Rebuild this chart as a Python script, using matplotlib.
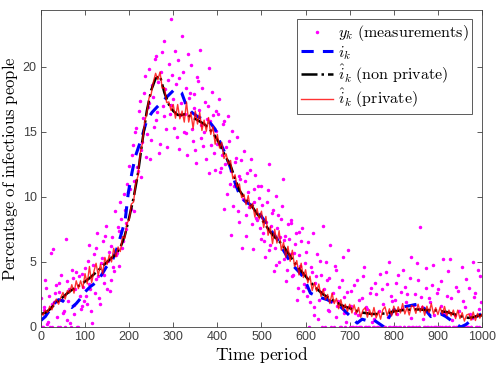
import matplotlib
matplotlib.use("Agg")
import matplotlib.pyplot as plt
import numpy as np

plt.rcParams['mathtext.fontset'] = 'cm'
plt.rcParams['font.family'] = ['Liberation Sans', 'DejaVu Sans']

# measurements y_k, read in two interleaved passes (clipped at zero like the original)
meas_x_a = np.arange(0, 1000, 4)
meas_y_a = [
    2.2, 0, 1.5, 3.0, 0.4, 0, 1.8, 6.0, 2.6, 0.8, 3.4, 0, 2.1, 1.2, 6.8, 0.5, 2.9, 0, 3.8, 1.0, 4.2, 0, 2.4, 1.6, 3.1,
    4.5, 1.8, 6.3, 2.9, 0.3, 5.6, 3.7, 7.2, 2.2, 4.9, 6.6, 3.4, 7.8, 5.1, 2.8, 6.2, 4.6, 8.9, 5.7, 7.4, 9.6, 6.1, 10.2, 8.0, 11.0,
    12.4, 9.1, 14.0, 11.2, 15.3, 12.0, 17.4, 13.6, 16.1, 19.3, 14.8, 17.2, 12.9, 18.6, 15.4, 20.8, 16.5, 13.4, 19.6, 17.0, 22.0, 15.2, 19.0, 16.4, 23.7,
    17.5, 21.2, 14.6, 19.1, 16.3, 22.4, 15.0, 18.4, 13.2, 17.6, 20.1, 14.3, 16.8, 12.6, 18.9, 21.3, 15.5, 13.9, 17.3, 16.0, 11.8, 15.8, 18.1, 13.4, 16.6,
    14.1, 17.5, 12.2, 15.6, 9.1, 13.8, 16.2, 11.0, 7.1, 9.3, 12.7, 14.6, 8.1, 11.4, 6.1, 13.5, 7.0, 11.8, 9.2, 12.9, 6.0, 10.6, 8.4, 10.8, 7.6,
    10.8, 7.2, 5.4, 9.6, 12.5, 6.3, 8.8, 4.3, 10.1, 7.6, 5.0, 8.3, 11.4, 6.7, 3.5, 7.9, 5.6, 8.0, 4.0, 6.4, 2.1, 7.3, 4.7, 7.6, 3.3,
    5.8, 2.4, 0, 4.6, 7.2, 1.5, 3.9, 0.6, 5.1, 2.7, 7.8, 0, 3.6, 1.2, 6.3, 2.0, 0, 4.4, 1.6, 3.1, 0, 5.4, 2.3, 0.4, 5.9,
    0, 2.8, 0, 1.1, 3.6, 0, 0, 2.2, 4.6, 0, 1.4, 0, 3.0, 0, 0.6, 2.5, 0, 4.1, 0, 1.8, 0, 3.3, 5.0, 0, 2.0,
    0, 3.4, 1.0, 0, 2.7, 4.4, 0, 1.9, 0, 3.8, 0.7, 0, 2.5, 4.9, 0, 7.7, 1.5, 0, 3.0, 0, 2.2, 0, 4.8, 0.9, 0,
    2.9, 0, 1.6, 5.2, 0, 2.4, 0, 5.2, 0.5, 0, 3.1, 0, 1.2, 0, 2.0, 0, 3.7, 0, 1.0, 0, 5.0, 2.6, 0, 1.4, 3.9,
]
meas_x_b = np.arange(2, 1000, 4)
meas_y_b = [
    0, 1.3, 3.6, 0.2, 2.4, 5.7, 0, 1.9, 3.2, 0, 2.7, 4.0, 1.1, 0, 3.5, 2.0, 0.3, 4.4, 1.7, 2.9, 0, 3.9, 1.4, 4.1, 2.0,
    2.4, 5.1, 3.3, 1.2, 4.8, 2.6, 6.1, 3.9, 1.8, 5.3, 4.0, 7.0, 2.9, 5.8, 3.6, 6.9, 4.3, 5.5, 7.7, 4.7, 8.3, 6.6, 9.0, 7.5, 10.4,
    10.6, 13.2, 8.9, 15.0, 12.3, 16.6, 11.5, 14.2, 18.0, 13.1, 16.9, 19.8, 14.4, 17.7, 20.6, 15.9, 18.8, 14.1, 21.1, 16.2, 18.3, 13.8, 20.2, 17.1, 19.4,
    15.3, 18.7, 20.5, 13.7, 17.2, 19.6, 16.4, 14.9, 21.0, 18.0, 15.2, 17.9, 13.6, 19.2, 16.7, 14.5, 18.4, 15.0, 12.9, 17.0, 19.9, 14.0, 16.3, 12.1, 15.1,
    16.4, 11.9, 13.2, 15.8, 12.5, 10.2, 14.3, 12.0, 15.1, 10.8, 13.0, 8.9, 11.6, 12.8, 9.8, 11.2, 8.6, 10.4, 12.1, 7.9, 9.6, 11.7, 8.2, 9.9, 6.8,
    9.4, 6.6, 8.1, 10.5, 5.9, 7.8, 9.0, 6.1, 4.8, 8.6, 6.9, 9.3, 5.2, 7.0, 4.4, 6.8, 8.2, 3.9, 5.7, 7.2, 3.0, 5.5, 6.6, 2.8, 4.9,
    3.1, 6.5, 1.9, 4.2, 0.9, 3.4, 5.6, 2.1, 4.0, 0, 2.9, 5.0, 1.3, 3.8, 0, 2.6, 4.7, 0.8, 2.0, 0, 3.6, 1.1, 0, 2.7, 1.5,
    1.6, 0, 3.2, 0, 0.9, 2.1, 0, 3.9, 0, 1.5, 0, 2.6, 0.4, 0, 3.4, 0, 1.2, 0, 2.9, 0, 4.2, 0.8, 0, 2.4, 0,
    2.1, 0, 4.0, 0, 1.4, 0, 3.1, 2.5, 0, 5.4, 0, 1.7, 0, 3.6, 0, 2.3, 0.6, 0, 4.5, 0, 1.9, 3.2, 0, 0, 2.6,
    0, 3.5, 0, 1.1, 0, 4.3, 0, 2.2, 0, 0.9, 0, 2.8, 0, 4.6, 0, 1.5, 0, 3.0, 0, 0.7, 2.3, 0, 4.4, 0, 1.9,
]

# true infected i_k
true_x = [0, 10, 20, 30, 40, 50, 60, 70, 80, 90, 100, 112, 124, 134, 148, 163, 172, 180, 191, 198,
          206, 214, 222, 229, 240, 252, 263, 275, 286, 301, 310, 319, 331, 342, 354, 365, 376, 386, 395, 405,
          418, 430, 441, 452, 465, 480, 498, 510, 520, 535, 548, 560, 575, 586, 596, 611, 630, 649, 660, 672,
          687, 702, 717, 728, 738, 752, 765, 778, 790, 800, 815, 831, 845, 861, 872, 884, 896, 907, 918, 930,
          942, 952, 964, 975, 987, 998]
true_y = [0.5, 0.8, 1.3, 1.8, 2.1, 2.0, 1.7, 1.5, 1.8, 2.2, 2.7, 3.1, 3.4, 3.8, 4.6, 5.2, 6.0, 6.9, 8.2, 10.3,
          11.8, 13.1, 13.9, 14.6, 15.9, 16.5, 16.9, 17.3, 17.7, 18.2, 18.2, 18.0, 16.9, 16.5, 16.2, 16.0, 15.9, 15.6, 15.2, 14.3,
          13.3, 12.2, 11.0, 10.0, 9.6, 9.3, 8.6, 8.0, 7.5, 6.8, 6.0, 5.3, 4.6, 4.2, 3.8, 2.6, 2.3, 2.1, 1.9, 1.8,
          1.3, 0.8, 0.3, 0.6, 0.5, 0.6, 0.3, 0.0, 0.8, 1.3, 1.5, 1.6, 1.7, 1.8, 1.3, 0.8, 0.9, 1.0, 0.8, 0.5,
          0.2, 0.0, 0.2, 0.5, 0.8, 1.0]

# non private estimate
est_x = np.arange(0, 1001, 10)
est_y = [1.0, 1.1, 1.35, 1.7, 2.0, 2.3, 2.6, 2.85, 3.05, 3.25,
         3.5, 3.75, 4.05, 4.35, 4.7, 5.0, 5.3, 5.6, 6.1, 7.0,
         8.4, 9.9, 11.8, 14.3, 16.6, 18.2, 19.1, 19.3, 18.0, 17.1,
         16.6, 16.3, 16.3, 16.4, 16.1, 16.0, 15.8, 15.6, 15.3, 14.9,
         14.4, 13.7, 13.0, 12.4, 11.4, 10.5, 10.0, 9.6, 9.2, 8.7,
         8.3, 7.8, 7.3, 6.9, 6.6, 6.2, 5.7, 5.2, 4.7, 4.3,
         3.9, 3.5, 3.1, 2.8, 2.5, 2.3, 2.1, 1.9, 1.7, 1.55,
         1.45, 1.3, 1.2, 1.1, 1.05, 1.0, 1.0, 1.0, 1.05, 1.1,
         1.2, 1.25, 1.3, 1.3, 1.35, 1.35, 1.35, 1.3, 1.3, 1.3,
         1.25, 1.2, 1.15, 1.05, 0.95, 0.85, 0.75, 0.7, 0.75, 0.85, 0.9]

# private estimate
priv_x = np.arange(0, 1001, 5)
priv_y = [1.1, 0.9, 1.3, 1.12, 1.6, 1.32, 1.85, 2.15, 1.75, 2.25, 2.65, 2.15, 2.8, 2.62, 3.25, 2.6, 3.55, 2.95, 3.55, 2.98,
          4.1, 3.32, 4.65, 3.4, 4.25, 4.9, 3.95, 4.82, 4.1, 5.35, 4.8, 5.55, 5.0, 6.05, 5.4, 6.15, 5.8, 6.95, 6.8, 8.0,
          8.2, 9.45, 9.6, 11.05, 11.6, 13.35, 14.1, 15.75, 16.4, 17.6, 17.9, 18.85, 19.5, 19.0, 19.6, 18.35, 18.4, 17.25, 17.3, 16.65,
          17.1, 16.05, 17.1, 16.0, 16.6, 15.75, 17.3, 15.75, 16.5, 15.25, 16.6, 15.6, 16.5, 15.1, 15.9, 15.05, 16.1, 14.8, 15.4, 14.05,
          14.8, 13.75, 14.2, 12.95, 13.3, 12.5, 12.8, 11.4, 11.7, 10.75, 11.0, 9.95, 10.2, 9.4, 10.1, 9.1, 9.5, 8.45, 9.1, 8.3,
          8.9, 7.65, 8.5, 7.05, 7.7, 6.4, 7.5, 6.45, 7.4, 5.9, 6.5, 5.35, 6.2, 5.05, 5.9, 4.65, 5.1, 4.0, 4.9, 3.8,
          4.4, 3.4, 3.9, 2.8, 3.4, 2.75, 3.3, 2.35, 2.9, 2.1, 2.5, 1.8, 2.6, 1.8, 2.2, 1.4, 2.1, 1.32, 1.75, 1.2,
          1.75, 1.08, 1.7, 1.05, 1.5, 0.75, 1.3, 1.48, 0.75, 1.32, 0.8, 1.5, 0.7, 1.2, 0.6, 1.32, 1.55, 0.88, 1.4, 0.85,
          1.6, 0.92, 1.55, 1.08, 1.8, 1.0, 1.5, 0.92, 1.65, 1.55, 1.05, 1.75, 1.15, 1.62, 0.9, 1.6, 1.1, 1.8, 1.0, 1.48,
          0.95, 1.52, 1.0, 1.58, 0.85, 1.3, 0.85, 1.3, 0.65, 1.3, 0.65, 1.1, 0.45, 0.92, 1.0, 0.52, 1.15, 0.5, 1.05, 0.68, 1.0]

x_ticks = list(range(0, 1001, 100))
y_ticks = [0, 5, 10, 15, 20]

fig = plt.figure(figsize=(4.99, 3.67), dpi=100)
ax = fig.add_axes([0.082, 0.109, 0.884, 0.865])

meas_x = np.concatenate([meas_x_a, meas_x_b])
meas_y = np.concatenate([meas_y_a, meas_y_b])
ax.plot(meas_x, meas_y, '.', color='magenta', markersize=3,
        label=r'$y_k\ \mathrm{(measurements)}$')
ax.plot(true_x, true_y, '--', color='blue', linewidth=2.2, dashes=(4, 3),
        label=r'$i_k$')
ax.plot(est_x, est_y, '-.', color='black', linewidth=1.8,
        label=r'$\hat{i}_k\ \mathrm{(non\ private)}$')
ax.plot(priv_x, priv_y, '-', color='red', linewidth=1.0, alpha=0.8,
        label=r'$\hat{i}_k\ \mathrm{(private)}$')

ax.set_xlim(0, 1000)
ax.set_ylim(0, 24.4)
ax.set_xticks(x_ticks)
ax.set_yticks(y_ticks)
ax.tick_params(direction='in', top=True, right=True, length=3.5, width=0.6,
               labelsize=9, colors='#404040', pad=3)
for sp in ax.spines.values():
    sp.set_color('#404040')
    sp.set_linewidth(0.6)

ax.set_xlabel(r'$\mathrm{Time\ period}$', fontsize=12.5, labelpad=1)
ax.set_ylabel(r'$\mathrm{Percentage\ of\ infectious\ people}$', fontsize=12, labelpad=2)

leg = ax.legend(loc='upper right', fontsize=11.5, fancybox=False, framealpha=1,
                edgecolor='#404040', borderaxespad=0.6, labelspacing=0.05,
                handlelength=2.0, handletextpad=0.3, borderpad=0.25)
leg.get_frame().set_linewidth(0.6)

fig.savefig('out.png', dpi=100)
